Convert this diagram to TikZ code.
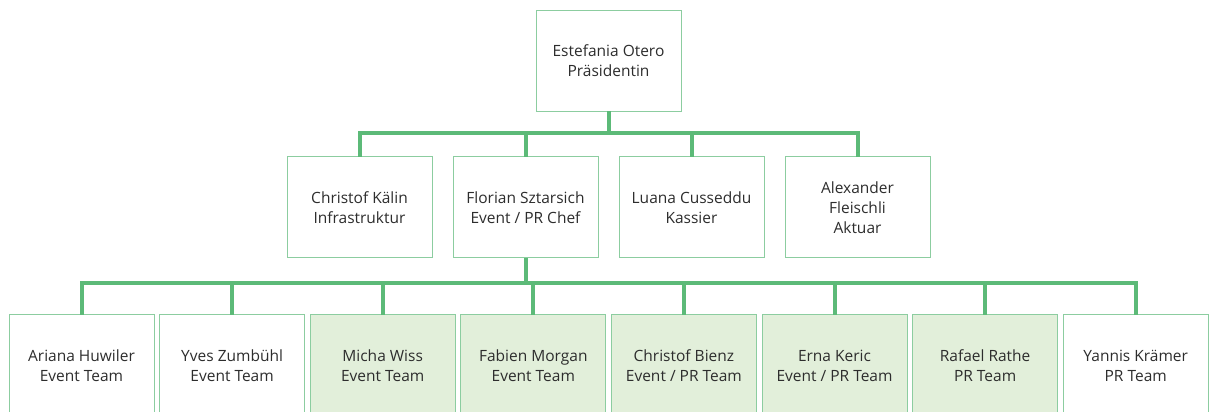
\documentclass[tikz,border=0pt]{standalone}
\usepackage{fontspec}
\setmainfont{Open Sans}
\usetikzlibrary{positioning}

\definecolor{busgreen}{RGB}{92,186,120}
\definecolor{boxgreen}{RGB}{140,205,160}
\definecolor{teamfill}{RGB}{226,239,218}
\definecolor{textgray}{RGB}{45,45,45}

\tikzset{
  person/.style={
    rectangle,
    draw=boxgreen,
    line width=1pt,
    fill=white,
    minimum width=145pt,
    minimum height=101pt,
    outer sep=0pt,
    align=center,
    text=textgray,
    font=\fontsize{15.5}{20}\selectfont},
  team/.style={person, fill=teamfill},
  bus/.style={draw=busgreen, line width=4pt}
}

\begin{document}
\begin{tikzpicture}
  \useasboundingbox (0,0) rectangle (1213pt,412pt);
  \clip (0,0) rectangle (1213pt,412pt);

  % top
  \node[person] (otero) at (608.5pt,351pt) {Estefania Otero\\Präsidentin};

  % second row
  \node[person] (kaelin) at (359.5pt,204.5pt) {Christof Kälin\\Infrastruktur};
  \node[person, right=21pt of kaelin] (sztarsich) {Florian Sztarsich\\Event / PR Chef};
  \node[person, right=21pt of sztarsich] (cusseddu) {Luana Cusseddu\\Kassier};
  \node[person, right=21pt of cusseddu] (fleischli) {Alexander\\Fleischli\\Aktuar};

  % third row
  \node[person] (huwiler) at (81.5pt,46.5pt) {Ariana Huwiler\\Event Team};
  \node[person, right=5.6pt of huwiler] (zumbuehl) {Yves Zumbühl\\Event Team};
  \node[team, right=5.6pt of zumbuehl] (wiss) {Micha Wiss\\Event Team};
  \node[team, right=5.6pt of wiss] (morgan) {Fabien Morgan\\Event Team};
  \node[team, right=5.6pt of morgan] (bienz) {Christof Bienz\\Event / PR Team};
  \node[team, right=5.6pt of bienz] (keric) {Erna Keric\\Event / PR Team};
  \node[team, right=5.6pt of keric] (rathe) {Rafael Rathe\\PR Team};
  \node[person, right=5.6pt of rathe] (kraemer) {Yannis Krämer\\PR Team};

  \coordinate (topbus) at ([yshift=-22pt]otero.south);
  \coordinate (lowbus) at ([yshift=-25pt]sztarsich.south);

  \draw[bus] (otero.south) -- (topbus);
  \foreach \n in {kaelin,sztarsich,cusseddu,fleischli}
    \draw[bus] (topbus) -| (\n.north);

  \draw[bus] (sztarsich.south) -- (lowbus);
  \foreach \n in {huwiler,zumbuehl,wiss,morgan,bienz,keric,rathe,kraemer}
    \draw[bus] (lowbus) -| (\n.north);
\end{tikzpicture}
\end{document}
